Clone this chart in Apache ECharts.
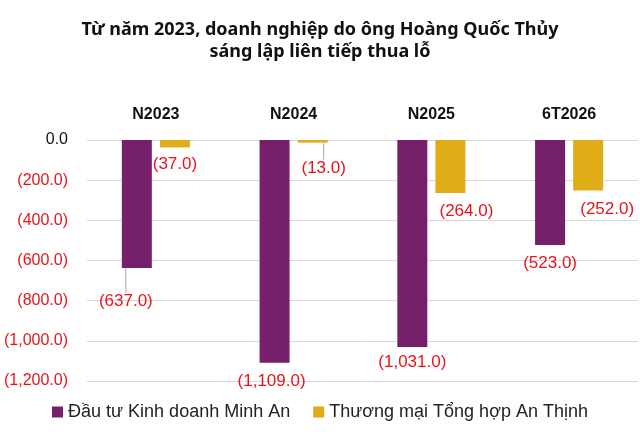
<!DOCTYPE html>
<html>
<head>
<meta charset="utf-8">
<script src="https://cdn.jsdelivr.net/npm/echarts@6/dist/echarts.min.js"></script>
<style>
  html, body { margin: 0; padding: 0; background: #fff; }
  #chart { width: 640px; height: 436px; }
</style>
</head>
<body>
<div id="chart"></div>
<script>
// data (loss, in negative numbers)
const categories = ['N2023', 'N2024', 'N2025', '6T2026'];
const seriesNames = ['Đầu tư Kinh doanh Minh An', 'Thương mại Tổng hợp An Thịnh'];
const minhAn = [-637, -1109, -1031, -523];
const anThinh = [-37, -13, -264, -252];

const purple = '#76206b';
const gold = '#e0ac17';
const red = '#e8141c';

// label nudges, the source has hand-placed labels
const minhAnShift = [[-11, 15], [-3, 0], [0, -3], [0, 0]];
const anThinhShift = [[0, -2], [11, 7], [16, 0], [19, 0]];

function fmt(v) {
  if (v === 0) return '0.0';
  const s = Math.abs(v).toLocaleString('en-US', { minimumFractionDigits: 1, maximumFractionDigits: 1 });
  return v < 0 ? '(' + s + ')' : s;
}

function barSeries(name, values, color, shift, lineAt) {
  return {
    name: name,
    type: 'bar',
    data: values.map((v, i) => ({ value: v, labelLine: { show: i === lineAt } })),
    barWidth: 30,
    barGap: '27%',
    itemStyle: { color: color },
    label: {
      show: true,
      position: 'bottom',
      distance: 10,
      formatter: p => fmt(p.value),
      fontFamily: 'Liberation Sans',
      fontSize: 17,
      color: red
    },
    labelLayout: p => ({ dx: shift[p.dataIndex][0], dy: shift[p.dataIndex][1] }),
    labelLine: { lineStyle: { color: '#a6a6a6', width: 1 } }
  };
}

const myChart = echarts.init(document.getElementById('chart'));

const option = {
  animation: false,
  title: {
    text: 'Từ năm 2023, doanh nghiệp do ông Hoàng Quốc Thủy\nsáng lập liên tiếp thua lỗ',
    left: 'center',
    top: 14,
    textStyle: {
      fontFamily: 'Noto Sans',
      fontWeight: 'bold',
      fontSize: 18,
      lineHeight: 22,
      color: '#111'
    }
  },
  legend: {
    bottom: 10,
    left: 'center',
    icon: 'rect',
    itemWidth: 11,
    itemHeight: 11,
    itemGap: 23,
    textStyle: { fontFamily: 'Liberation Sans', fontSize: 18, color: '#222' },
    data: seriesNames
  },
  grid: { left: 87, right: 2, top: 140, bottom: 55, containLabel: false },
  xAxis: {
    type: 'category',
    position: 'top',
    data: categories,
    axisLine: { show: false },
    axisTick: { show: false },
    axisLabel: {
      margin: 17,
      fontFamily: 'Liberation Sans',
      fontWeight: 'bold',
      fontSize: 16,
      color: '#111'
    }
  },
  yAxis: {
    type: 'value',
    min: -1200,
    max: 0,
    interval: 200,
    axisLine: { show: false },
    axisTick: { show: false },
    splitLine: { lineStyle: { color: '#d9d9d9', width: 1 } },
    axisLabel: {
      margin: 19,
      fontFamily: 'Liberation Sans',
      fontSize: 16,
      formatter: fmt,
      color: function (v) { return Number(v) === 0 ? '#111' : red; }
    }
  },
  series: [
    barSeries(seriesNames[0], minhAn, purple, minhAnShift, 0),
    barSeries(seriesNames[1], anThinh, gold, anThinhShift, 1)
  ]
};

myChart.setOption(option);
</script>
</body>
</html>
